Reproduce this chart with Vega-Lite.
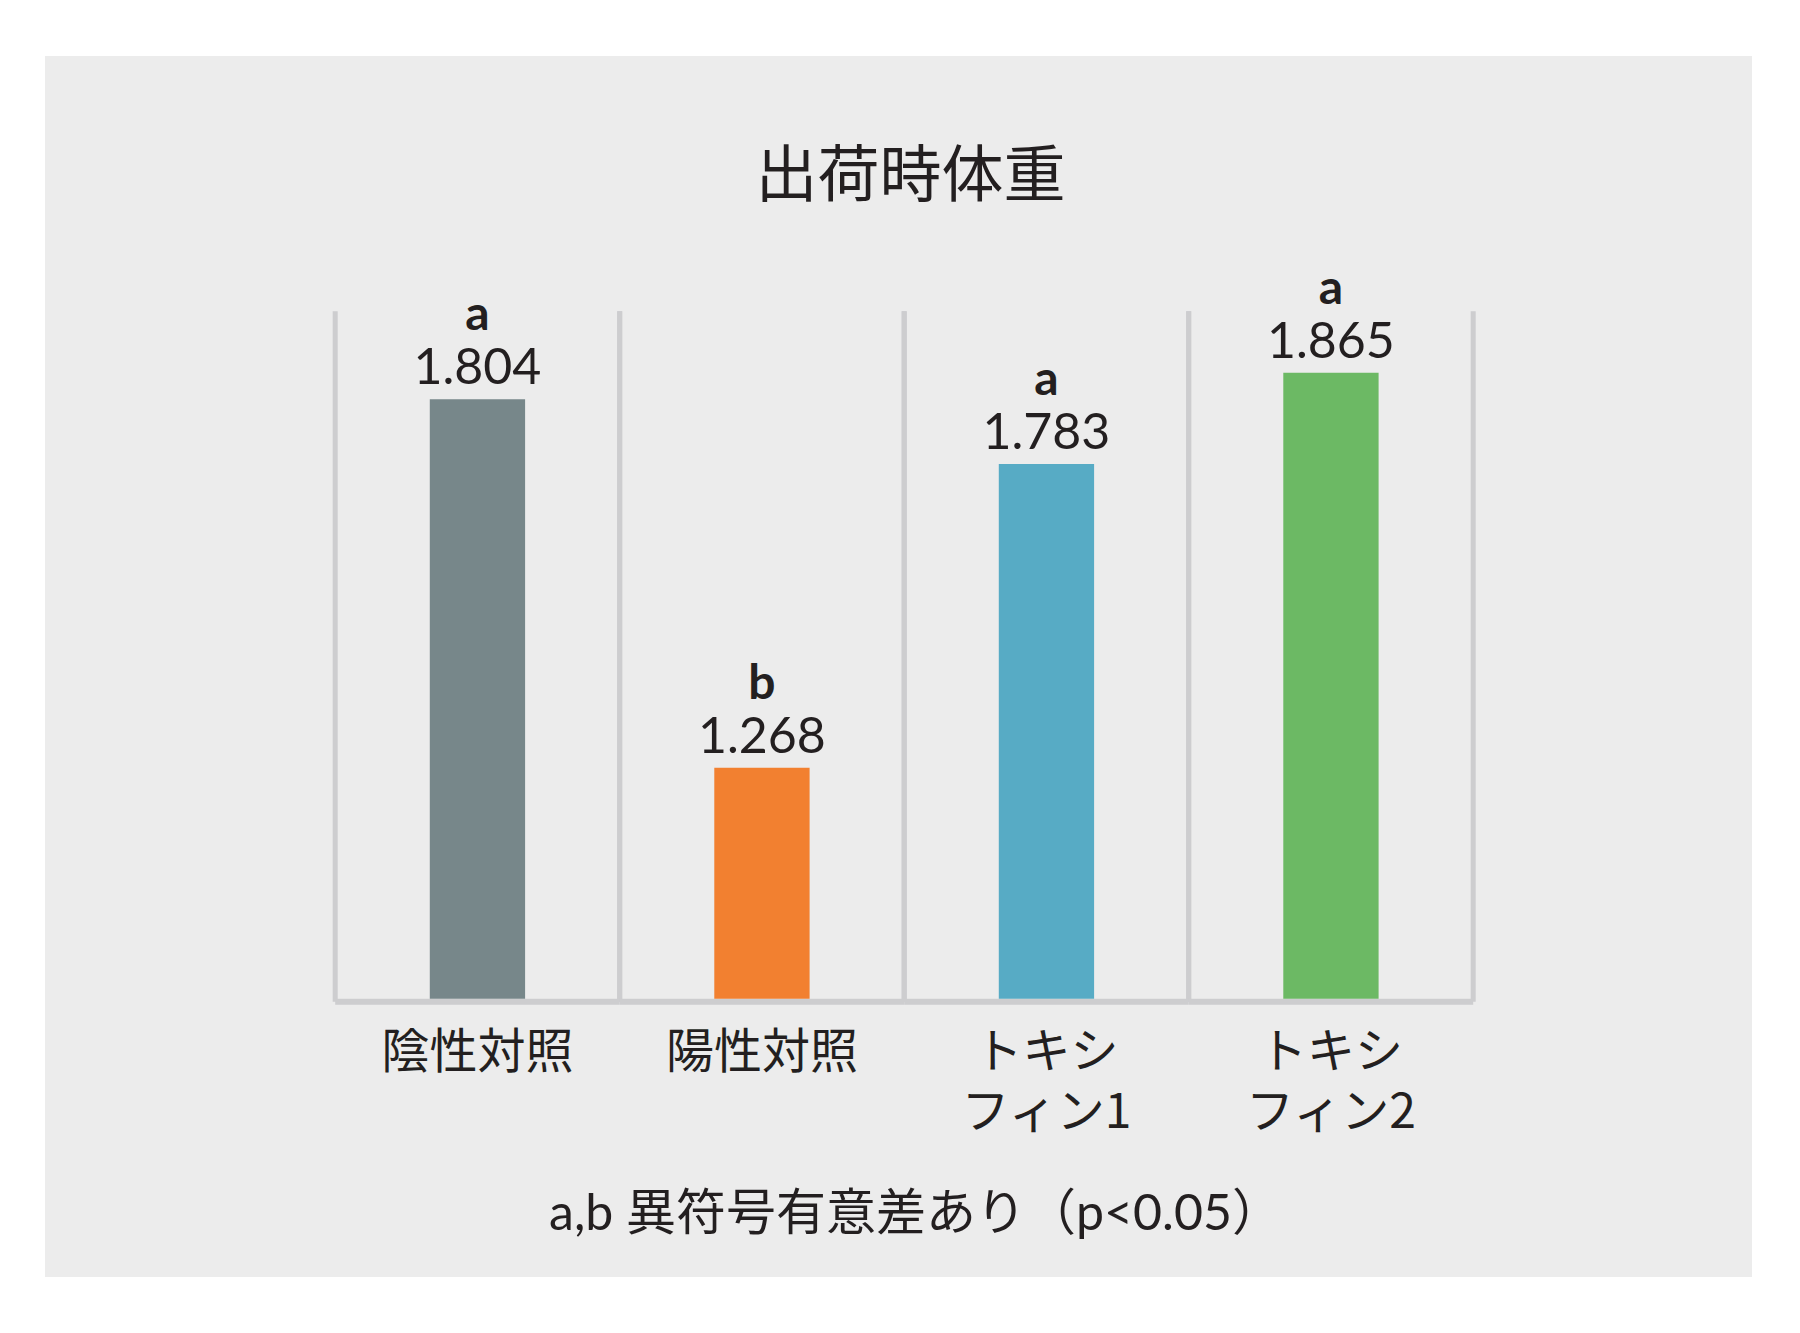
{
  "$schema": "https://vega.github.io/schema/vega-lite/v6.json",
  "width": 1707,
  "height": 1221,
  "autosize": {"type": "none"},
  "padding": {"left": 45, "top": 56, "right": 48, "bottom": 56},
  "background": "#ffffff",
  "config": {"view": {"fill": "#ececec", "stroke": null}},
  "title": {
    "text": "出荷時体重",
    "font": "Noto Sans CJK JP",
    "fontSize": 62,
    "fontWeight": "normal",
    "color": "#231f20",
    "anchor": "middle",
    "frame": "group",
    "baseline": "alphabetic",
    "offset": -203,
    "dx": 12
  },
  "data": {
    "values": [
      {"group": "陰性対照", "value": "1.804", "bar": 1.825, "sig": "a"},
      {"group": "陽性対照", "value": "1.268", "bar": 1.268, "sig": "b"},
      {"group": "トキシ フィン1", "value": "1.783", "bar": 1.727, "sig": "a"},
      {"group": "トキシ フィン2", "value": "1.865", "bar": 1.865, "sig": "a"}
    ]
  },
  "encoding": {
    "x": {
      "field": "group",
      "type": "nominal",
      "sort": null,
      "scale": {"paddingInner": 0, "paddingOuter": 1.0106, "align": 0.51},
      "axis": {
        "title": "a,b 異符号有意差あり（p<0.05）",
        "orient": "bottom",
        "offset": -275,
        "domain": false,
        "ticks": false,
        "grid": false,
        "labelAngle": 0,
        "labelPadding": 27,
        "labelBaseline": "top",
        "labelFont": "Noto Sans CJK JP",
        "labelFontSize": 48,
        "labelColor": "#231f20",
        "labelLimit": 500,
        "labelOverlap": false,
        "labelExpr": "split(datum.label, ' ')",
        "labelLineHeight": 60,
        "titleFont": "Lato, Noto Sans CJK JP",
        "titleFontSize": 50,
        "titleFontWeight": "normal",
        "titleColor": "#231f20",
        "titleBaseline": "alphabetic",
        "titleAlign": "center",
        "titleX": 870,
        "titleY": 227
      }
    },
    "y": {
      "type": "quantitative",
      "scale": {"domain": [0.498, 2.344], "zero": false, "nice": false},
      "axis": null
    }
  },
  "layer": [
    {
      "mark": {"type": "rule", "color": "#cdcdcf", "strokeWidth": 5},
      "encoding": {
        "x": {"field": "group", "type": "nominal", "sort": null, "bandPosition": 0},
        "y": {"datum": 1.958, "type": "quantitative"},
        "y2": {"datum": 0.914}
      }
    },
    {
      "mark": {"type": "rule", "color": "#cdcdcf", "strokeWidth": 5},
      "encoding": {
        "x": {"field": "group", "type": "nominal", "sort": null, "bandPosition": 1},
        "y": {"datum": 1.958, "type": "quantitative"},
        "y2": {"datum": 0.914}
      }
    },
    {
      "mark": {"type": "bar", "color": "#cdcdcf", "width": {"band": 1}},
      "encoding": {
        "y": {"datum": 0.9185, "type": "quantitative"},
        "y2": {"datum": 0.9095}
      }
    },
    {
      "mark": {"type": "bar", "width": {"band": 0.335}},
      "encoding": {
        "y": {"field": "bar", "type": "quantitative"},
        "y2": {"datum": 0.9185},
        "color": {
          "field": "group",
          "type": "nominal",
          "sort": null,
          "scale": {"range": ["#77878a", "#f28030", "#57abc5", "#6cb964"]},
          "legend": null
        }
      }
    },
    {
      "mark": {"type": "text", "font": "Lato", "fontSize": 50, "color": "#231f20", "baseline": "alphabetic", "dy": -15},
      "encoding": {
        "y": {"field": "bar", "type": "quantitative"},
        "text": {"field": "value", "type": "nominal"}
      }
    },
    {
      "mark": {"type": "text", "font": "Lato", "fontSize": 48, "fontWeight": "bold", "color": "#231f20", "baseline": "alphabetic", "dy": -69},
      "encoding": {
        "y": {"field": "bar", "type": "quantitative"},
        "text": {"field": "sig", "type": "nominal"}
      }
    }
  ]
}
